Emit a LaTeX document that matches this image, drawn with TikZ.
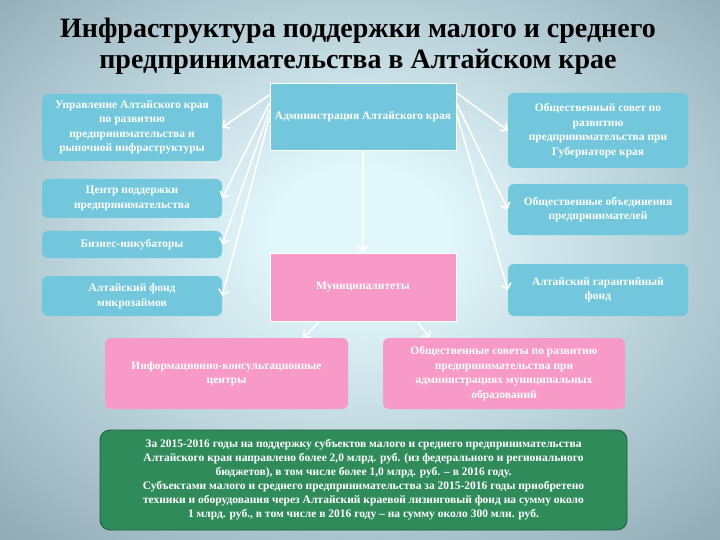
\documentclass[tikz,border=0pt]{standalone}
\usepackage{fontspec}
\setmainfont{Liberation Serif}
\usetikzlibrary{arrows.meta,calc,positioning}
\definecolor{bginner}{HTML}{E2F7FB}
\definecolor{bgouter}{HTML}{7692A0}
\definecolor{boxblue}{HTML}{72C7DC}
\definecolor{boxpink}{HTML}{F89AC7}
\definecolor{boxgreen}{HTML}{2F8C5A}
\definecolor{greenedge}{HTML}{1E5C3B}
\pgfdeclareradialshading{slideglow}{\pgfpoint{0bp}{4bp}}{color(0bp)=(bginner); color(6bp)=(bginner); color(46bp)=(bgouter); color(50bp)=(bgouter)}
\tikzstyle{block} = [rectangle, rounded corners=6pt, fill=boxblue, text=white, align=center, font=\bfseries\fontsize{11.5}{14.5}\selectfont, minimum width=180pt, inner sep=2pt]
\tikzstyle{pinkblock} = [block, fill=boxpink]
\tikzstyle{mainblock} = [rectangle, draw=white, line width=0.8pt, text=white, align=center, font=\bfseries\fontsize{11.5}{14.5}\selectfont, minimum width=186pt, minimum height=67pt, inner sep=1pt]
\tikzstyle{link} = [draw=white, line width=1.6pt, -{Straight Barb[length=5pt,width=10pt]}]

\begin{document}
\begin{tikzpicture}[x=1pt,y=-1pt]
      \shade[shading=slideglow] (0,0) rectangle (720,540);
      \useasboundingbox (0,0) rectangle (720,540);
      \node[font=\bfseries\fontsize{28}{31}\selectfont, align=center] (title) at (358,46) {Инфраструктура поддержки малого и среднего\\предпринимательства в Алтайском крае};
      %
      \node[mainblock, fill=boxblue] (admin) at (363,116.5) {Администрация Алтайского края};
      \node[mainblock, fill=boxpink, minimum height=68pt] (municip) at (363,287) {Муниципалитеты};
      %
      \node[block, minimum height=67pt] (ctrl) at (132,127.5) {Управление Алтайского края\\по развитию\\предпринимательства и\\рыночной инфраструктуры};
      \node[block, minimum height=39pt] (supportcentre) at (132,198.5) {Центр поддержки\\предпринимательства};
      \node[block, minimum height=27pt] (incub) at (132,244.5) {Бизнес-инкубаторы};
      \node[block, minimum height=40pt] (microfund) at (132,296) {Алтайский фонд\\микрозаймов};
      %
      \node[block, minimum height=75pt] (council) at (598,130.5) {Общественный совет по\\развитию\\предпринимательства при\\Губернаторе края};
      \node[block, minimum height=51pt] (assoc) at (598,209.5) {Общественные объединения\\предпринимателей};
      \node[block, minimum height=52pt] (guarantee) at (598,290) {Алтайский гарантийный\\фонд};
      %
      \node[pinkblock, minimum width=243pt, minimum height=71pt] (infocentres) at (226.5,373.5) {Информационно-консультационные\\центры};
      \node[pinkblock, minimum width=242pt, minimum height=71pt] (muncouncils) at (504,373.5) {Общественные советы по развитию\\предпринимательства при\\администрациях муниципальных\\образований};
      %
      \node[rectangle, rounded corners=10pt, draw=greenedge, line width=0.8pt, fill=boxgreen, text=white, align=center, font=\bfseries\fontsize{11.5}{14}\selectfont, minimum width=527pt, minimum height=100pt] (funding) at (363.5,480) {За 2015-2016 годы на поддержку субъектов малого и среднего предпринимательства\\Алтайского края направлено более 2,0 млрд. руб. (из федерального и регионального\\бюджетов), в том числе более 1,0 млрд. руб. – в 2016 году.\\Субъектами малого и среднего предпринимательства за 2015-2016 годы приобретено\\техники и оборудования через Алтайский краевой лизинговый фонд на сумму около\\1 млрд. руб., в том числе в 2016 году – на сумму около 300 млн. руб.};
      %
      \draw[link] ($(admin.north west)!0.18!(admin.south west)$) -- (ctrl.east);
      \draw[link] ($(admin.north west)!0.3!(admin.south west)$) -- (supportcentre.east);
      \draw[link] ($(admin.north west)!0.4!(admin.south west)$) -- (incub.east);
      \draw[link] ($(admin.north west)!0.5!(admin.south west)$) -- (microfund.east);
      \draw[link] ($(admin.north east)!0.15!(admin.south east)$) -- (council.west);
      \draw[link] ($(admin.north east)!0.3!(admin.south east)$) -- (assoc.west);
      \draw[link] ($(admin.north east)!0.45!(admin.south east)$) -- (guarantee.west);
      \draw[link, line width=2.5pt] (admin.south) -- (municip.north);
      \draw[link] ($(municip.south)+(-43,0)$) -- ($(infocentres.north east)+(-45,0)$);
      \draw[link] ($(municip.south)+(54,0)$) -- ($(muncouncils.north west)+(47,0)$);
\end{tikzpicture}
\end{document}
